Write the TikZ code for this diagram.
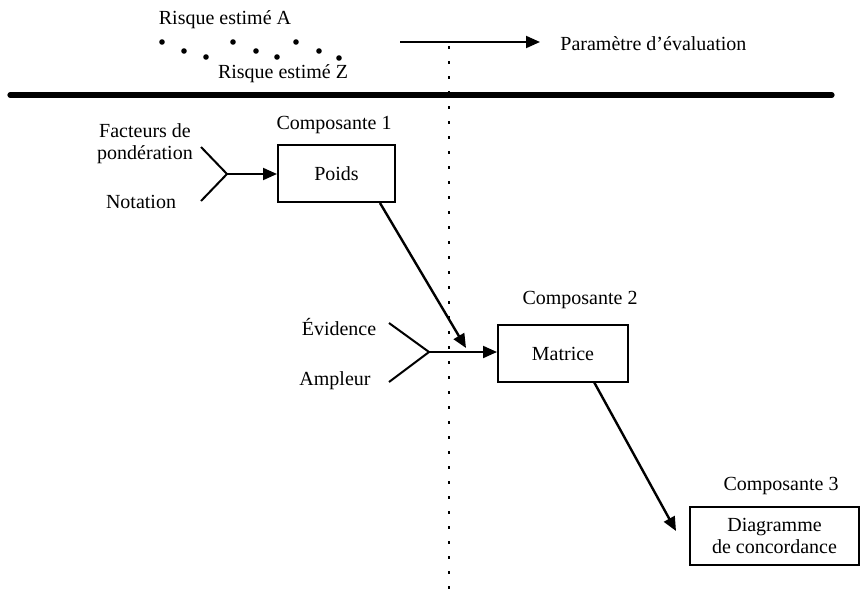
\documentclass[tikz,border=0pt]{standalone}
\usepackage{fontspec}
\setmainfont{Liberation Serif}
\usetikzlibrary{arrows.meta}
\begin{document}
\begin{tikzpicture}[x=0.5pt,y=-0.5pt,
  txt/.style={inner sep=0pt,font=\fontsize{10}{11}\selectfont,align=center},
  box/.style={draw,line width=1pt,inner sep=0pt,font=\fontsize{10}{11}\selectfont,align=center},
  conn/.style={line width=1pt},
  arr/.style={line width=1pt,-{Triangle[length=7pt,width=6pt]}},
  dotv/.style={line width=1.4pt,dash pattern=on 1.4pt off 6.1pt},
  pt/.style={circle,fill,inner sep=0pt,minimum size=2.8pt}]
\useasboundingbox (0,0) rectangle (861,611);
% top legend
\node[txt] (rA) at (225,20) {Risque estimé A};
\node[txt] (rZ) at (283,74) {Risque estimé Z};
\foreach \i/\x/\y in {1/162/42,2/184/51,3/206/57,4/233/42,5/256/51,6/277/57,7/296/42,8/319/51,9/339/58}
  \node[pt] (d\i) at (\x,\y) {};
\coordinate (a0) at (400,42);
\coordinate (a1) at (540,42);
\node[txt,anchor=west] (param) at (560,44) {Paramètre d'évaluation};
\draw[arr] (a0) -- (a1);
% thick line
\coordinate (t0) at (10,95);
\coordinate (t1) at (832,95);
\draw[line width=2.6pt,line cap=round] (t0) -- (t1);
% dotted vertical
\coordinate (v0) at (449,46);
\coordinate (v1) at (449,600);
\draw[dotv] (v0) -- (v1);
% component 1
\node[txt] (c1) at (334,125) {Composante 1};
\node[box,minimum width=58.5pt,minimum height=28.5pt] (poids) at (336.5,173.5) {Poids};
\node[txt] (fac) at (145,144) {Facteurs de\\pondération};
\node[txt] (nota) at (141,202) {Notation};
\coordinate (f1) at (201,147);
\coordinate (f2) at (201,201);
\coordinate (j1) at (227,174);
\draw[conn] (f1) -- (j1) -- (f2);
\draw[arr] (j1) -- (poids.west |- j1);
% component 2
\node[txt] (c2) at (580,300) {Composante 2};
\node[box,minimum width=65pt,minimum height=28.5pt] (matrice) at (563,353.5) {Matrice};
\node[txt] (evi) at (339,327) {Évidence};
\node[txt] (amp) at (335,381) {Ampleur};
\coordinate (e1) at (389,323);
\coordinate (e2) at (389,382);
\coordinate (j2) at (429,352);
\draw[conn] (e1) -- (j2) -- (e2);
\draw[arr] (j2) -- (matrice.west |- j2);
% arrow from Poids
\coordinate (ps) at (380,203);
\coordinate (pe) at (466,348);
\draw[arr,line width=1.2pt] (ps) -- (pe);
% component 3
\node[txt] (c3) at (781,486) {Composante 3};
\node[box,minimum width=84.5pt,minimum height=29pt] (diag) at (774.5,536) {Diagramme\\de concordance};
\coordinate (ms) at (594,382);
\coordinate (me) at (676,531);
\draw[arr,line width=1.2pt] (ms) -- (me);
\end{tikzpicture}
\end{document}
